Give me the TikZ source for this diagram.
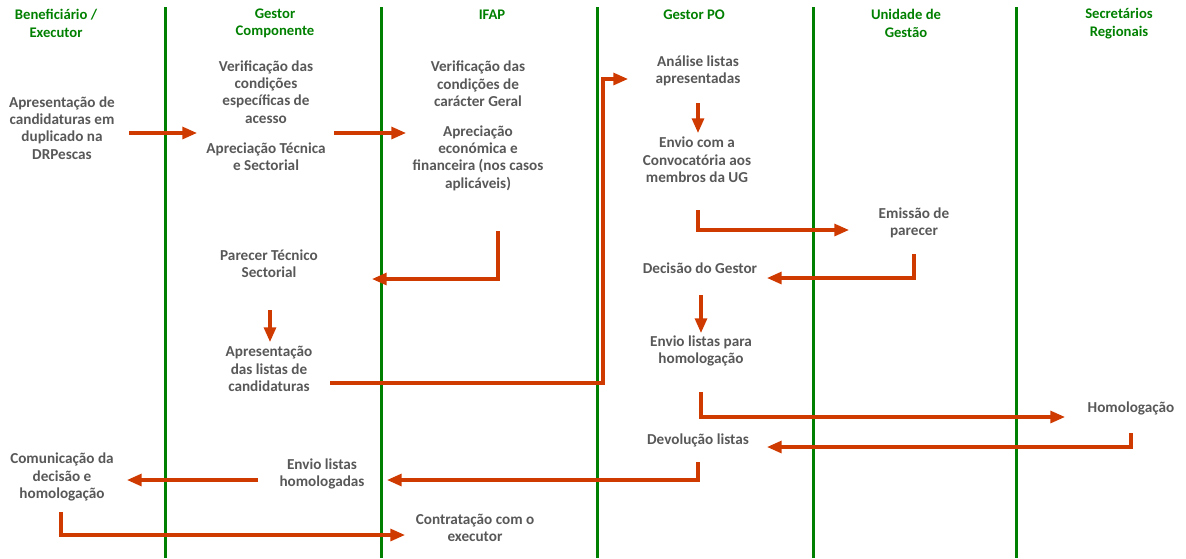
\documentclass[tikz,border=0pt]{standalone}
\usepackage{fontspec}
\setmainfont{Carlito}
\usepackage{tikz}
\usetikzlibrary{arrows.meta, calc}
\definecolor{lanegreen}{HTML}{008000}
\definecolor{flowred}{HTML}{CF3A00}
\definecolor{textgrey}{HTML}{585858}

\begin{document}
\begin{tikzpicture}[x=0.75pt, y=-0.75pt,
    font=\fontsize{11}{13}\selectfont\bfseries,
    headnode/.style={text=lanegreen, align=center, inner sep=0pt},
    stepnode/.style={text=textgrey, align=center, inner sep=0pt, font=\fontsize{11.4}{13}\selectfont\bfseries},
    lane/.style={draw=lanegreen, line width=2.2pt},
    flow/.style={-{Triangle[length=11pt,width=9pt]}, draw=flowred, line width=2.3pt}]
  \useasboundingbox (0,0) rectangle (1186,558);

  % swimlane separators
  \foreach \lx in {165.5, 381.5, 597.5, 813.5, 1016.5}
    \draw[lane] (\lx,7) -- (\lx,558);

  % lane headers
  \node[headnode] (hben) at (56,23.5) {Beneficiário /\\Executor};
  \node[headnode] (hgc) at (275,23.5) {Gestor\\Componente};
  \node[headnode] (hifap) at (492,15) {IFAP};
  \node[headnode] (hpo) at (694,15) {Gestor PO};
  \node[headnode] (hug) at (906,23.5) {Unidade de\\Gestão};
  \node[headnode] (hsr) at (1119,23.5) {Secretários\\Regionais};

  % steps
  \node[stepnode] (cand) at (62,128) {Apresentação de\\candidaturas em\\duplicado na\\DRPescas};
  \node[stepnode] (gcverif) at (266,92) {Verificação das\\condições\\específicas de\\acesso};
  \node[stepnode] (gcaprec) at (266,157) {Apreciação Técnica\\e Sectorial};
  \node[stepnode] (ifverif) at (478,84) {Verificação das\\condições de\\carácter Geral};
  \node[stepnode] (ifaprec) at (478,158) {Apreciação\\económica e\\financeira (nos casos\\aplicáveis)};
  \node[stepnode] (analise) at (698,71) {Análise listas\\apresentadas};
  \node[stepnode] (envioug) at (697,160) {Envio com a\\Convocatória aos\\membros da UG};
  \node[stepnode] (emissao) at (914,223) {Emissão de\\parecer};
  \node[stepnode] (parecer) at (269,264) {Parecer Técnico\\Sectorial};
  \node[stepnode] (decisao) at (700,268) {Decisão do Gestor};
  \node[stepnode] (aprlistas) at (269,369) {Apresentação\\das listas de\\candidaturas};
  \node[stepnode] (enviohom) at (701,351) {Envio listas para\\homologação};
  \node[stepnode] (homolog) at (1131,408) {Homologação};
  \node[stepnode] (devol) at (698,440) {Devolução listas};
  \node[stepnode] (comun) at (62,477) {Comunicação da\\decisão e\\homologação};
  \node[stepnode] (envhomol) at (322,474) {Envio listas\\homologadas};
  \node[stepnode] (contrat) at (475,528) {Contratação com o\\executor};

  % flow
  \draw[flow] ($(cand)+(67,5)$) -- ($(gcverif)+(-69,41)$);
  \draw[flow] ($(gcaprec)+(68,-24)$) -- ($(ifaprec)+(-72,-25)$);
  \draw[flow] ($(ifaprec)+(20,73)$) |- ($(parecer)+(103,15)$);
  \draw[flow] ($(parecer)+(1,46)$) -- ($(aprlistas)+(1,-27)$);
  \draw[flow] ($(aprlistas)+(61,14)$) -| ($(analise)+(-95,8)$) -- ($(analise)+(-70,8)$);
  \draw[flow] ($(analise)+(0,32)$) -- ($(envioug)+(1,-27)$);
  \draw[flow] ($(envioug)+(1,50)$) |- ($(emissao)+(-65,7)$);
  \draw[flow] ($(emissao)+(0,31)$) |- ($(decisao)+(67,10)$);
  \draw[flow] ($(decisao)+(1,27)$) -- ($(enviohom)+(0,-18)$);
  \draw[flow] ($(enviohom)+(0,41)$) |- ($(homolog)+(-66,9)$);
  \draw[flow] ($(homolog)+(0,25)$) |- ($(devol)+(69,7)$);
  \draw[flow] ($(devol)+(0,22)$) |- ($(envhomol)+(65,6)$);
  \draw[flow] ($(envhomol)+(-64,6)$) -- ($(comun)+(65,3)$);
  \draw[flow] ($(comun)+(-1,35)$) |- ($(contrat)+(-70,7)$);
\end{tikzpicture}
\end{document}
